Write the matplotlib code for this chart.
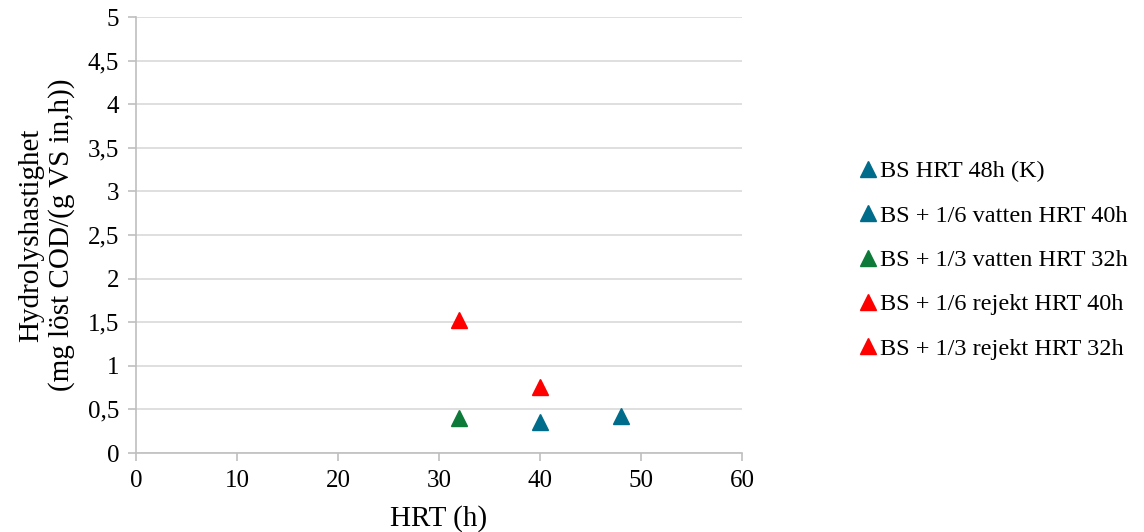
import matplotlib
matplotlib.use("Agg")
import matplotlib.pyplot as plt
from matplotlib.ticker import FuncFormatter

plt.rcParams['font.family'] = ['Liberation Serif', 'DejaVu Serif']

series_labels = ["BS HRT 48h (K)", "BS + 1/6 vatten HRT 40h", "BS + 1/3 vatten HRT 32h",
                 "BS + 1/6 rejekt HRT 40h", "BS + 1/3 rejekt HRT 32h"]
series_x = [48, 40, 32, 40, 32]
series_y = [0.43, 0.36, 0.40, 0.76, 1.52]
series_colors = ["#006C8B", "#006C8B", "#0E7A3A", "#FF0000", "#FF0000"]

x_ticks = [0, 10, 20, 30, 40, 50, 60]
y_ticks = [0, 0.5, 1, 1.5, 2, 2.5, 3, 3.5, 4, 4.5, 5]

fig = plt.figure(figsize=(11.44, 5.32), dpi=100)
ax = fig.add_axes([136/1144, 1-453/532, (742-136)/1144, (453-17)/532])

for lab, x, y, c in zip(series_labels, series_x, series_y, series_colors):
    ax.plot([x], [y], linestyle='none', marker='^', markersize=11, color=c, label=lab)

ax.set_xlim(0, 60)
ax.set_ylim(0, 5)
ax.set_xticks(x_ticks)
ax.set_yticks(y_ticks)
fmt = FuncFormatter(lambda v, p: (f"{v:g}").replace('.', ','))
ax.yaxis.set_major_formatter(fmt)
ax.xaxis.set_major_formatter(fmt)
ax.grid(axis='y', color='#D9D9D9', linewidth=1.2)
ax.set_axisbelow(True)
for s in ['top', 'right']:
    ax.spines[s].set_visible(False)
for s in ['left', 'bottom']:
    ax.spines[s].set_color('#BFBFBF')
    ax.spines[s].set_linewidth(1.2)
ax.tick_params(axis='both', colors='#BFBFBF', labelcolor='black', labelsize=18, length=6, width=1.2, direction='out')
ax.tick_params(axis='x', pad=6)
ax.tick_params(axis='y', pad=6)

ax.set_xlabel("HRT (h)", fontsize=21, labelpad=10)
ax.set_ylabel("Hydrolyshastighet\n(mg löst COD/(g VS in,h))", fontsize=21, labelpad=9, linespacing=1.2)

leg = fig.legend(loc='center left', bbox_to_anchor=(857/1144, 1-260/532), frameon=False,
                 fontsize=17.5, handletextpad=0.05, handlelength=0.9, labelspacing=0.92,
                 borderaxespad=0, borderpad=0)

fig.savefig("out.png", dpi=100)
